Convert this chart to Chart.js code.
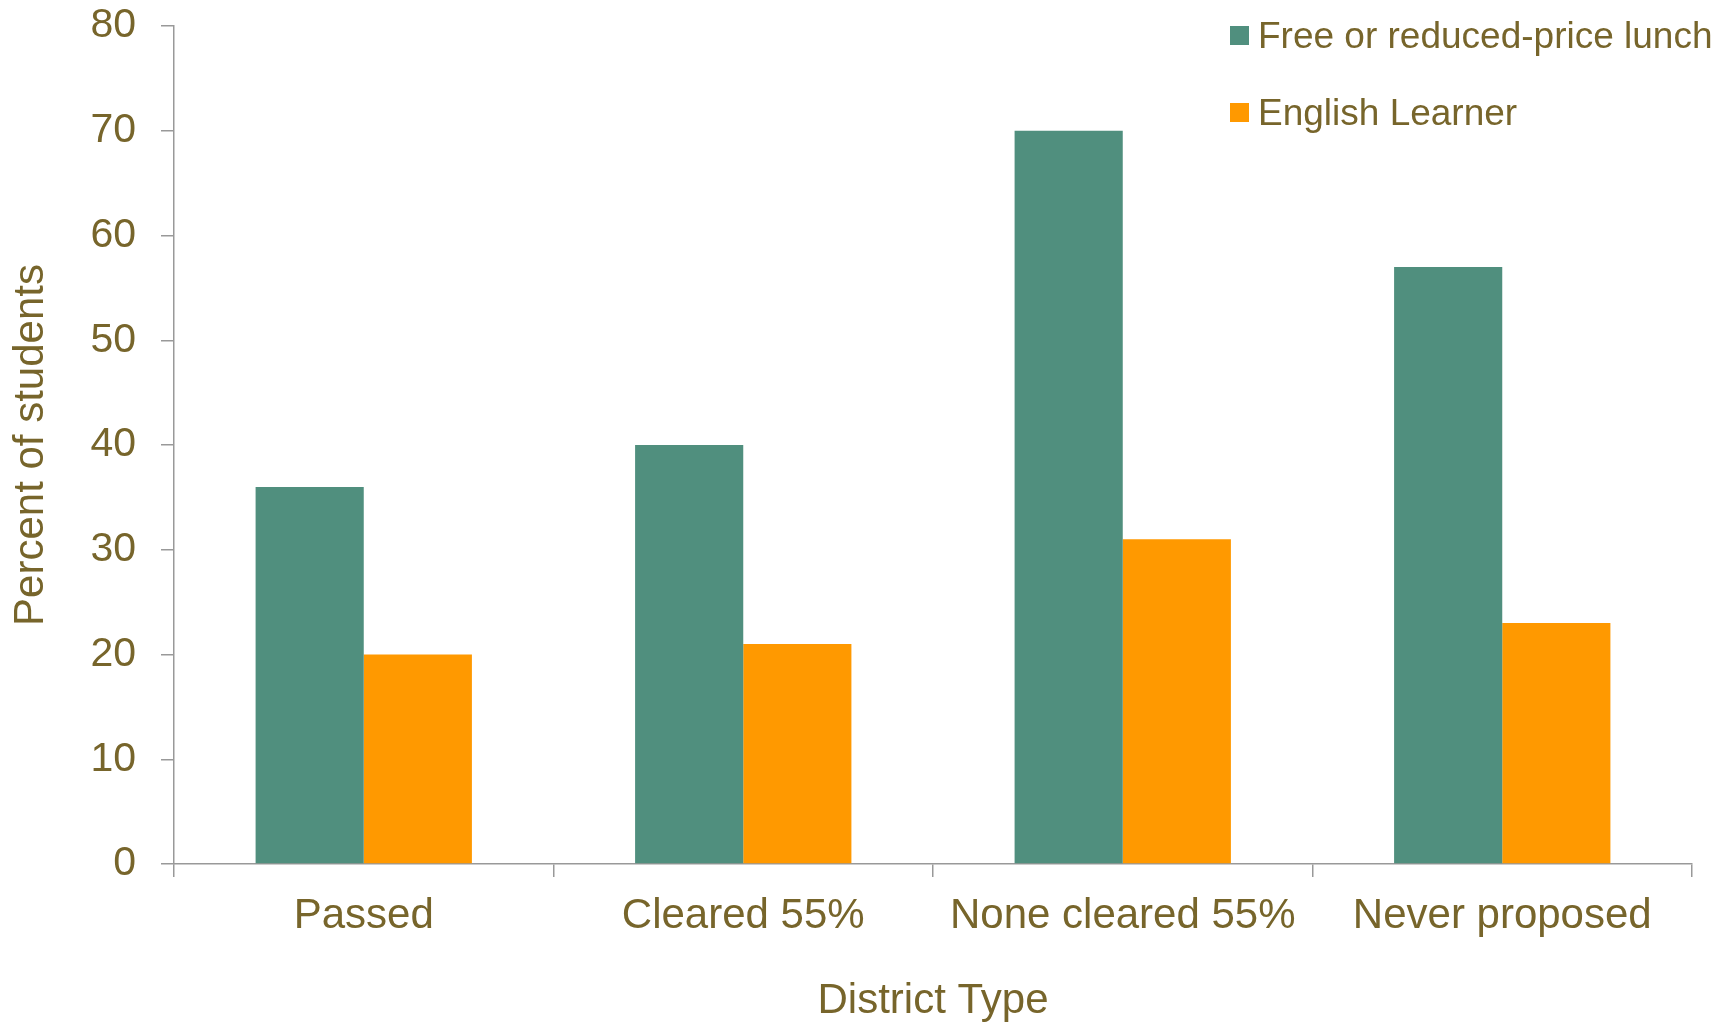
<!DOCTYPE html>
<html><head><meta charset="utf-8">
<script src="https://cdn.jsdelivr.net/npm/chart.js@4.4.1/dist/chart.umd.min.js"></script>
<style>html,body{margin:0;padding:0;background:#fff}#wrap{width:1736px;height:1023px;position:relative}canvas{display:block}</style>
</head><body><div id="wrap"><canvas id="c" width="1736" height="1023"></canvas></div>
<script>
const categories = ["Passed", "Cleared 55%", "None cleared 55%", "Never proposed"];
const freeLunch = [36, 40, 70, 57];
const englishLearner = [20, 21, 31, 23];
const seriesNames = ["Free or reduced-price lunch", "English Learner"];
const yTickValues = [0, 10, 20, 30, 40, 50, 60, 70, 80];
const xTitle = "District Type";
const yTitle = "Percent of students";

const textColor = "#77652b";
const axisColor = "#999999";
const FONT = '"Liberation Sans", Arial, sans-serif';

const legendPlugin = {
  id: 'customLegend',
  afterDraw(chart) {
    const ctx = chart.ctx;
    ctx.save();
    ctx.font = '37px ' + FONT;
    ctx.textBaseline = 'alphabetic';
    ctx.textAlign = 'left';
    chart.data.datasets.forEach((ds, i) => {
      const base = 48 + i * 77;
      ctx.fillStyle = ds.backgroundColor;
      ctx.fillRect(1230, base - 22, 19, 19);
      ctx.fillStyle = textColor;
      ctx.fillText(ds.label, 1258, base);
    });
    ctx.restore();
  }
};

new Chart(document.getElementById('c'), {
  type: 'bar',
  data: {
    labels: categories,
    datasets: [
      { label: seriesNames[0], data: freeLunch, backgroundColor: '#508f7e', borderWidth: 0 },
      { label: seriesNames[1], data: englishLearner, backgroundColor: '#ff9900', borderWidth: 0 }
    ]
  },
  options: {
    responsive: false,
    animation: false,
    layout: { padding: { top: 0, right: 44, left: 0, bottom: 0 } },
    datasets: { bar: { barPercentage: 1.0, categoryPercentage: 0.57 } },
    plugins: { legend: { display: false }, tooltip: { enabled: false } },
    scales: {
      x: {
        grid: { display: true, drawOnChartArea: false, offset: true, tickLength: 13, color: axisColor, lineWidth: 1.5 },
        border: { color: axisColor, width: 1.5 },
        ticks: { color: textColor, font: { family: FONT, size: 42 }, padding: 14 },
        title: { display: true, text: xTitle, color: textColor, font: { family: FONT, size: 42, lineHeight: 1.05 }, padding: { top: 0, bottom: 0 } },
        afterFit(s) { s.height = 159; s.paddingLeft = 0; s.paddingRight = 0; }
      },
      y: {
        min: 0, max: 80,
        afterBuildTicks(s) { s.ticks = yTickValues.map(v => ({ value: v })); },
        grid: { display: true, drawOnChartArea: false, tickLength: 13, color: axisColor, lineWidth: 1.5 },
        border: { color: axisColor, width: 1.5 },
        ticks: { color: textColor, font: { family: FONT, size: 41 }, padding: 25 },
        title: { display: true, text: yTitle, color: textColor, font: { family: FONT, size: 42, lineHeight: 1.1 }, padding: { top: 8, bottom: 0 } },
        afterFit(s) { s.width = 174; s.paddingTop = 26; s.paddingBottom = 0; }
      }
    }
  },
  plugins: [legendPlugin]
});
</script>
</body></html>
